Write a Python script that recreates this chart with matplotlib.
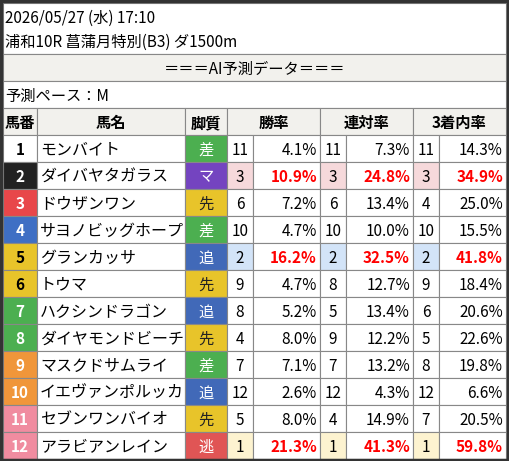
import matplotlib
matplotlib.use("Agg")
import matplotlib.pyplot as plt
from matplotlib.patches import Rectangle

plt.rcParams["font.family"] = ["Noto Sans CJK JP", "DejaVu Sans"]

title1 = "2026/05/27 (水) 17:10"
title2 = "浦和10R 菖蒲月特別(B3) ダ1500m"
banner = "＝＝＝AI予測データ＝＝＝"
pace = "予測ペース：M"
headers = ["馬番", "馬名", "脚質", "勝率", "連対率", "3着内率"]

nums = list(range(1, 13))
names = ["モンバイト", "ダイバヤタガラス", "ドウザンワン", "サヨノビッグホープ", "グランカッサ", "トウマ",
         "ハクシンドラゴン", "ダイヤモンドビーチ", "マスクドサムライ", "イエヴァンポルッカ",
         "セブンワンバイオ", "アラビアンレイン"]
styles = ["差", "マ", "先", "差", "追", "先", "追", "先", "差", "追", "先", "逃"]
win_rank = [11, 3, 6, 10, 2, 9, 8, 4, 7, 12, 5, 1]
win_pct = [4.1, 10.9, 7.2, 4.7, 16.2, 4.7, 5.2, 8.0, 7.1, 2.6, 8.0, 21.3]
ren_rank = [11, 3, 6, 10, 2, 8, 5, 9, 7, 12, 4, 1]
ren_pct = [7.3, 24.8, 13.4, 10.0, 32.5, 12.7, 13.4, 12.2, 13.2, 4.3, 14.9, 41.3]
top3_rank = [11, 3, 4, 10, 2, 9, 6, 5, 8, 12, 7, 1]
top3_pct = [14.3, 34.9, 25.0, 15.5, 41.8, 18.4, 20.6, 22.6, 19.8, 6.6, 20.5, 59.8]

gate_colors = {1: ("#ffffff", "#000000"), 2: ("#222222", "#ffffff"), 3: ("#e8474a", "#ffffff"),
               4: ("#3f6fc4", "#ffffff"), 5: ("#e8c42a", "#000000"), 6: ("#4caf50", "#ffffff"),
               7: ("#f0963a", "#ffffff"), 8: ("#f08ca0", "#ffffff")}
gates = [1, 2, 3, 4, 5, 5, 6, 6, 7, 7, 8, 8]
style_colors = {"差": ("#4caf50", "#ffffff"), "マ": ("#7444c0", "#ffffff"), "先": ("#e8c42a", "#222222"),
                "追": ("#4169b8", "#ffffff"), "逃": ("#e05555", "#ffffff")}
rank_bg = {1: "#fdf3d0", 2: "#d3e4f8", 3: "#f6d9db"}

W, H = 509, 461
fig = plt.figure(figsize=(W / 100, H / 100), dpi=100)
ax = fig.add_axes([0, 0, 1, 1])
ax.set_xlim(0, W)
ax.set_ylim(H, 0)
ax.axis("off")

grid = "#888888"
dy = 1.5  # CJKフォントのベースライン補正


def cell(x0, y0, x1, y1, fc="#ffffff"):
    ax.add_patch(Rectangle((x0, y0), x1 - x0, y1 - y0, facecolor=fc, edgecolor=grid, lw=0.8))


L, R = 3, 506
fs = 11
cell(L, 3, R, 54)
ax.text(5, 17 + dy, title1, fontsize=fs, va="center")
ax.text(5, 41 + dy, title2, fontsize=fs, va="center")
cell(L, 54, R, 81, "#f2f1ed")
ax.text((L + R) / 2, 67.5 + dy, banner, fontsize=fs, ha="center", va="center")
cell(L, 81, R, 108)
ax.text(5, 95 + dy, pace, fontsize=fs, va="center")

cols = [3, 37, 185, 227, 253, 320, 346, 413, 439, 506]
hy0, hy1 = 108, 135
hspans = [(0, 1), (1, 2), (2, 3), (3, 5), (5, 7), (7, 9)]
for h, (a, b) in zip(headers, hspans):
    cell(cols[a], hy0, cols[b], hy1, "#f2f1ed")
    ax.text((cols[a] + cols[b]) / 2, (hy0 + hy1) / 2 + dy, h, fontsize=fs, fontweight="bold", ha="center", va="center")

rh = (H - 2 - hy1) / 12
for i in range(12):
    y0 = hy1 + i * rh
    y1 = y0 + rh
    yc = (y0 + y1) / 2 + dy
    gbg, gfg = gate_colors[gates[i]]
    cell(cols[0], y0, cols[1], y1, gbg)
    ax.text((cols[0] + cols[1]) / 2, yc, str(nums[i]), fontsize=fs, fontweight="bold", color=gfg, ha="center", va="center")
    cell(cols[1], y0, cols[2], y1)
    ax.text(cols[1] + 3, yc, names[i], fontsize=11.5, va="center")
    sbg, sfg = style_colors[styles[i]]
    cell(cols[2], y0, cols[3], y1, sbg)
    ax.text((cols[2] + cols[3]) / 2, yc, styles[i], fontsize=fs, color=sfg, ha="center", va="center")
    top = win_rank[i] <= 3
    for k, (rk, pc) in enumerate([(win_rank[i], win_pct[i]), (ren_rank[i], ren_pct[i]), (top3_rank[i], top3_pct[i])]):
        xa, xb, xc = cols[3 + 2 * k], cols[4 + 2 * k], cols[5 + 2 * k]
        cell(xa, y0, xb, y1, rank_bg.get(win_rank[i], "#ffffff"))
        ax.text((xa + xb) / 2, yc, str(rk), fontsize=fs, ha="center", va="center")
        cell(xb, y0, xc, y1)
        ax.text(xc - 3, yc, f"{pc:.1f}%", fontsize=fs, ha="right", va="center",
                color="#ff0000" if top else "#000000", fontweight="bold" if top else "normal")

ax.add_patch(Rectangle((1, 1), W - 2, H - 2, fill=False, edgecolor="#333333", lw=2.5))
fig.savefig("out.png", dpi=100)
